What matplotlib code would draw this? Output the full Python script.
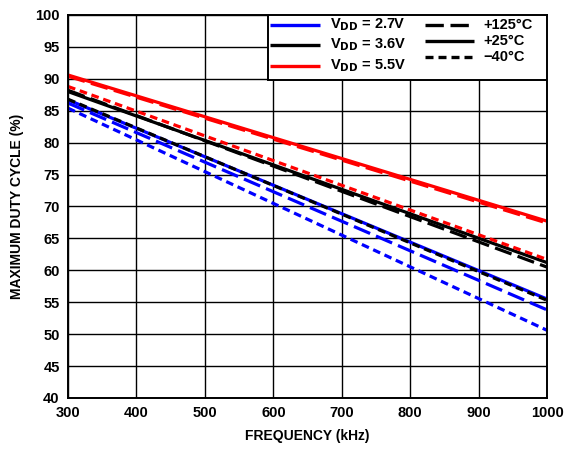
import matplotlib.pyplot as plt
from matplotlib.patches import Rectangle

plt.rcParams["font.family"] = ["Liberation Sans", "DejaVu Sans"]
plt.rcParams["font.weight"] = "bold"

# Data (straight lines, end points)
freq = [300, 1000]

# VDD = 2.7V (blue)
blue_125 = [86.2, 53.8]
blue_25 = [86.7, 55.5]
blue_m40 = [85.4, 50.6]

# VDD = 3.6V (black)
black_125 = [88.2, 60.5]
black_25 = [88.0, 61.2]
black_m40 = [86.8, 55.3]

# VDD = 5.5V (red)
red_125 = [90.4, 67.4]
red_25 = [90.6, 67.7]
red_m40 = [88.8, 61.7]

x_ticks = [300, 400, 500, 600, 700, 800, 900, 1000]
y_ticks = [40, 45, 50, 55, 60, 65, 70, 75, 80, 85, 90, 95, 100]

long_dash = (0, (5.5, 2.0))
short_dash = (0, (2.4, 1.5))
lw = 2.3

fig = plt.figure(figsize=(5.64, 4.5), dpi=100)
ax = fig.add_axes([0.1206, 0.1156, 0.8494, 0.8511])

# -----------------------------------
# LINES
# -----------------------------------
ax.plot(freq, blue_m40, color="#0000ff", lw=lw, linestyle=short_dash)
ax.plot(freq, blue_125, color="#0000ff", lw=lw, linestyle=long_dash)
ax.plot(freq, blue_25, color="#0000ff", lw=lw)
ax.plot(freq, black_m40, color="black", lw=lw, linestyle=short_dash)
ax.plot(freq, black_125, color="black", lw=lw, linestyle=long_dash)
ax.plot(freq, black_25, color="black", lw=lw)
ax.plot(freq, red_m40, color="#ff0000", lw=lw, linestyle=short_dash)
ax.plot(freq, red_125, color="#ff0000", lw=lw, linestyle=long_dash)
ax.plot(freq, red_25, color="#ff0000", lw=lw)

ax.set_xlim(300, 1000)
ax.set_ylim(40, 100)
ax.set_xticks(x_ticks)
ax.set_yticks(y_ticks)
ax.grid(True, color="black", linewidth=1.0)
ax.tick_params(length=0, labelsize=10.5, pad=6)
for lab in ax.get_xticklabels() + ax.get_yticklabels():
    lab.set_fontweight("bold")
for s in ax.spines.values():
    s.set_linewidth(1.4)

ax.set_xlabel("FREQUENCY (kHz)", fontsize=10, fontweight="bold", labelpad=6)
ax.set_ylabel("MAXIMUM DUTY CYCLE (%)", fontsize=10, fontweight="bold", labelpad=8)

# -----------------------------------
# LEGEND (drawn by hand, top right)
# -----------------------------------
def px(x, y):
    # pixel position in figure -> axes fraction
    return ((x - 68) / 479.0, (398 - y) / 383.0)

x0, y0 = px(268, 80)
x1, y1 = px(547, 15)
ax.add_patch(Rectangle((x0, y0), x1 - x0, y1 - y0, transform=ax.transAxes,
                       facecolor="white", edgecolor="black", linewidth=1.4,
                       zorder=5))

vdd_rows = [("#0000ff", "2.7V", 25), ("black", "3.6V", 45), ("#ff0000", "5.5V", 66)]
for col, v, yy in vdd_rows:
    a = px(270, yy)
    b = px(320, yy)
    ax.plot([a[0], b[0]], [a[1], b[1]], color=col, lw=2.4,
            transform=ax.transAxes, zorder=6, solid_capstyle="butt")
    t = px(330, yy)
    ax.text(t[0], t[1], r"V$_{\mathbf{DD}}$ = " + v, transform=ax.transAxes,
            fontsize=10.5, fontweight="bold", va="center", ha="left", zorder=6)

temp_rows = [(long_dash, "+125°C", 25), ("-", "+25°C", 41), (short_dash, "\u221240°C", 57)]
for ls, lab, yy in temp_rows:
    a = px(425, yy)
    b = px(474, yy)
    ax.plot([a[0], b[0]], [a[1], b[1]], color="black", lw=2.4, linestyle=ls,
            transform=ax.transAxes, zorder=6, solid_capstyle="butt")
    t = px(483, yy)
    ax.text(t[0], t[1], lab, transform=ax.transAxes, fontsize=10.5,
            fontweight="bold", va="center", ha="left", zorder=6)

fig.savefig("out.png", dpi=100)
